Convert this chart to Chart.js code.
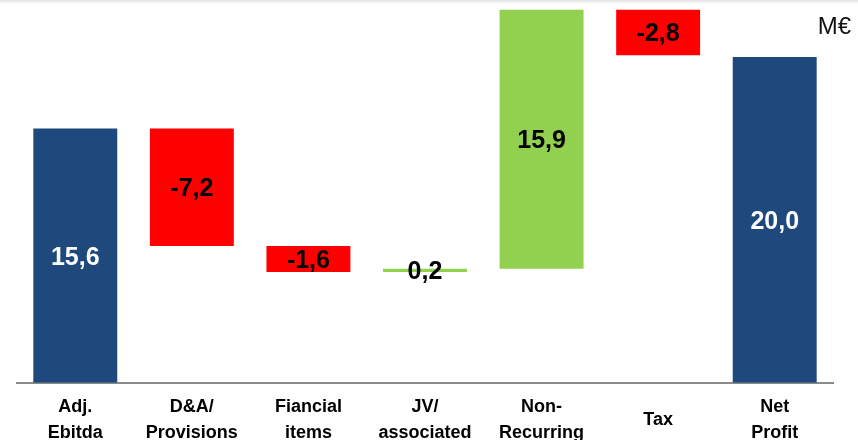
<!DOCTYPE html>
<html>
<head>
<meta charset="utf-8">
<script src="https://cdn.jsdelivr.net/npm/chart.js@4/dist/chart.umd.min.js"></script>
<style>
  html, body { margin: 0; padding: 0; background: #fff; }
  #wrap { position: relative; width: 858px; height: 440px; overflow: hidden; }
  #topshade { position: absolute; left: 0; top: 0; width: 858px; height: 4px;
    background: linear-gradient(#e4e4e4, rgba(255,255,255,0)); }
  #unit { position: absolute; right: 7px; top: 12px; font: 24px 'Liberation Sans', Arial, sans-serif;
    color: #111; }
</style>
</head>
<body>
<div id="wrap">
  <canvas id="c" width="858" height="483"></canvas>
  <div id="topshade"></div>
  <div id="unit">M€</div>
</div>
<script>
// Net profit bridge, values in M€
const categories = [
  ['Adj.', 'Ebitda'],
  ['D&A/', 'Provisions'],
  ['Fiancial', 'items'],
  ['JV/', 'associated'],
  ['Non-', 'Recurring'],
  'Tax',
  ['Net', 'Profit']
];
const values = [15.6, -7.2, -1.6, 0.2, 15.9, -2.8, 20.0];
const kinds = ['total', 'step', 'step', 'step', 'step', 'step', 'total'];

const COLORS = { total: '#1f497d', up: '#92d050', down: '#ff0000' };

// floating segments: totals start at zero, steps run from the running sum
let running = 0;
const segments = values.map((v, i) => {
  if (kinds[i] === 'total') { running = v; return [0, v]; }
  const start = running;
  running += v;
  return [start, running];
});
const fills = values.map((v, i) => kinds[i] === 'total' ? COLORS.total : (v >= 0 ? COLORS.up : COLORS.down));
const textColors = kinds.map(k => k === 'total' ? '#ffffff' : '#000000');

const valueLabels = {
  id: 'valueLabels',
  afterDatasetsDraw(chart) {
    const ctx = chart.ctx;
    const meta = chart.getDatasetMeta(0);
    ctx.save();
    ctx.font = 'bold 25px "Liberation Sans", Arial, sans-serif';
    ctx.textAlign = 'center';
    ctx.textBaseline = 'middle';
    meta.data.forEach((bar, i) => {
      const p = bar.getProps(['x', 'y', 'base'], true);
      const cy = (p.y + p.base) / 2;
      ctx.fillStyle = textColors[i];
      ctx.fillText(values[i].toFixed(1).replace('.', ','), p.x, cy + 2);
    });
    ctx.restore();
  }
};

new Chart(document.getElementById('c'), {
  type: 'bar',
  data: {
    labels: categories,
    datasets: [{
      data: segments,
      backgroundColor: fills,
      borderWidth: 0,
      categoryPercentage: 1,
      barPercentage: 0.72,
      minBarLength: 3
    }]
  },
  options: {
    responsive: false,
    animation: false,
    layout: { padding: { left: 17, right: 25, top: 8, bottom: 0 } },
    plugins: { legend: { display: false }, tooltip: { enabled: false } },
    scales: {
      y: { display: false, min: 0, max: 23 },
      x: {
        grid: { display: false, drawTicks: false },
        border: { display: true, color: '#8a8a8a', width: 2 },
        ticks: {
          color: '#000',
          padding: 24,
          crossAlign: 'center',
          maxRotation: 0,
          autoSkip: false,
          font: { family: '"Liberation Sans", Arial, sans-serif', size: 18, weight: 'bold', lineHeight: 1.45 }
        }
      }
    }
  },
  plugins: [valueLabels]
});
</script>
</body>
</html>
